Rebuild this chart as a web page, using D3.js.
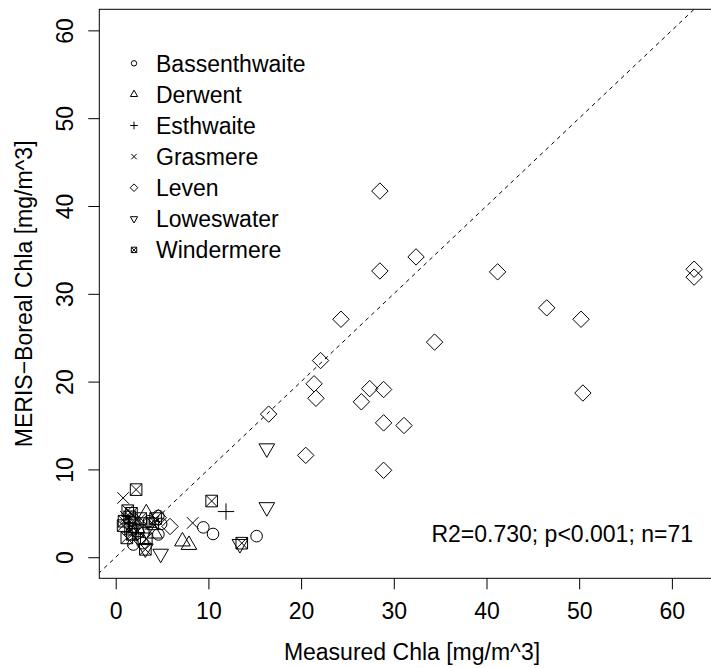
<!DOCTYPE html>
<html>
<head>
<meta charset="utf-8">
<script src="https://cdn.jsdelivr.net/npm/d3@7"></script>
<style>
  html, body { margin: 0; padding: 0; background: #fff; }
  svg { display: block; }
  text { font-family: "Liberation Sans", Arial, Helvetica, sans-serif; fill: #000; }
</style>
</head>
<body>
<svg id="chart" width="711" height="668"></svg>
<script>
// ---- data (measured, MERIS) per lake ----
const lakes = ["Bassenthwaite", "Derwent", "Esthwaite", "Grasmere", "Leven", "Loweswater", "Windermere"];
const symbols = ["circle", "triangle", "plus", "cross", "diamond", "triangleDown", "squareX"];

const bassenthwaite = [[9.45,3.4],[10.5,2.65],[15.2,2.4],[4.6,4.7],[4.6,2.6],[1.9,1.45],[3.6,4.1],[2.6,2.1],[4.9,3.8],[2.9,1.6]];
const derwent = [[7.2,1.8],[7.9,1.4],[3.3,5.0],[2.3,3.3],[4.2,2.7]];
const esthwaite = [[11.9,5.2],[1.5,3.8],[2.2,2.8],[3.6,3.4]];
const grasmere = [[0.8,6.75],[8.3,3.9],[1.1,4.6],[1.9,3.3],[2.8,3.9]];
const leven = [[28.5,41.7],[32.4,34.2],[28.5,32.6],[41.2,32.5],[62.4,32.8],[62.4,31.9],[46.5,28.4],[50.2,27.1],
               [24.3,27.1],[34.4,24.5],[22.1,22.4],[21.4,19.75],[21.6,18.1],[27.4,19.2],[28.9,19.1],[26.5,17.7],
               [28.9,15.3],[31.1,15.0],[50.4,18.7],[20.5,11.6],[28.9,9.9],[16.5,16.3],[5.86,3.5],[4.6,4.5]];
const loweswater = [[16.3,12.4],[16.3,5.7],[4.85,0.4],[13.4,1.5],[3.2,1.0]];
const windermere = [[2.2,7.7],[10.35,6.4],[13.6,1.6],[3.2,0.9],[0.8,3.6],[0.9,4.1],[1.3,5.3],[1.5,4.6],[1.6,3.2],
                    [1.8,2.6],[1.2,2.2],[2.0,3.9],[2.4,3.0],[2.7,4.4],[3.3,2.1],[4.0,3.8],[4.3,4.4],[1.7,5.0]];
const seriesValues = [bassenthwaite, derwent, esthwaite, grasmere, leven, loweswater, windermere];

const xTicks = [0, 10, 20, 30, 40, 50, 60];
const yTicks = [0, 10, 20, 30, 40, 50, 60];
const statsLabel = "R2=0.730; p<0.001; n=71";
const xTitle = "Measured Chla [mg/m^3]";
const yTitle = "MERIS\u2212Boreal Chla [mg/m^3]";

// ---- layout ----
const svg = d3.select("#chart");
const box = { left: 99.3, right: 716, top: 9.3, bottom: 578.3 };
const x = d3.scaleLinear().domain([-1.77, 64.76]).range([box.left, box.right]);
const y = d3.scaleLinear().domain([-2.4, 62.4]).range([box.bottom, box.top]);
const FS = 23;

function symbolPath(type, cx, cy, r) {
  const p = d3.path();
  if (type === "circle") {
    p.moveTo(cx + r, cy); p.arc(cx, cy, r, 0, 2 * Math.PI);
  } else if (type === "triangle" || type === "triangleDown") {
    const s = type === "triangle" ? 1 : -1;
    const rr = 1.5551 * r, xc = 1.3468 * r, yc = 0.7776 * r;
    p.moveTo(cx, cy - s * rr); p.lineTo(cx + xc, cy + s * yc); p.lineTo(cx - xc, cy + s * yc); p.closePath();
  } else if (type === "plus") {
    const h = Math.SQRT2 * r;
    p.moveTo(cx - h, cy); p.lineTo(cx + h, cy); p.moveTo(cx, cy - h); p.lineTo(cx, cy + h);
  } else if (type === "cross") {
    p.moveTo(cx - r, cy - r); p.lineTo(cx + r, cy + r); p.moveTo(cx - r, cy + r); p.lineTo(cx + r, cy - r);
  } else if (type === "diamond") {
    const h = Math.SQRT2 * r;
    p.moveTo(cx, cy - h); p.lineTo(cx + h, cy); p.lineTo(cx, cy + h); p.lineTo(cx - h, cy); p.closePath();
  } else if (type === "squareX") {
    p.rect(cx - r, cy - r, 2 * r, 2 * r);
    p.moveTo(cx - r, cy - r); p.lineTo(cx + r, cy + r); p.moveTo(cx - r, cy + r); p.lineTo(cx + r, cy - r);
  }
  return p.toString();
}

// clip to plot box
svg.append("defs").append("clipPath").attr("id", "clip")
  .append("rect").attr("x", box.left).attr("y", box.top)
  .attr("width", box.right - box.left).attr("height", box.bottom - box.top);

const plot = svg.append("g").attr("clip-path", "url(#clip)");

// 1:1 line
plot.append("line")
  .attr("x1", x(-5)).attr("y1", y(-5)).attr("x2", x(70)).attr("y2", y(70))
  .attr("stroke", "#000").attr("stroke-width", 1).attr("stroke-dasharray", "4,4");

// points
const R = 5.8;
seriesValues.forEach((vals, i) => {
  plot.append("g").selectAll("path").data(vals).join("path")
    .attr("d", d => symbolPath(symbols[i], x(d[0]), y(d[1]), R))
    .attr("fill", "none").attr("stroke", "#000").attr("stroke-width", 1);
});

// box
svg.append("rect").attr("x", box.left).attr("y", box.top)
  .attr("width", box.right - box.left).attr("height", box.bottom - box.top)
  .attr("fill", "none").attr("stroke", "#000").attr("stroke-width", 1);

// axes
const xAxis = d3.axisBottom(x).tickValues(xTicks).tickSize(11).tickPadding(6).tickFormat(d3.format("d"));
const gx = svg.append("g").attr("transform", `translate(0,${box.bottom})`).call(xAxis);
gx.select(".domain").remove();
gx.selectAll("text").attr("font-size", FS).attr("font-family", null).attr("dy", null)
  .attr("y", 40.5);
gx.selectAll("line").attr("stroke", "#000");

const yAxis = d3.axisLeft(y).tickValues(yTicks).tickSize(11).tickFormat(d3.format("d"));
const gy = svg.append("g").attr("transform", `translate(${box.left},0)`).call(yAxis);
gy.select(".domain").remove();
gy.selectAll("line").attr("stroke", "#000");
gy.selectAll("text").attr("font-size", FS).attr("font-family", null)
  .attr("x", null).attr("dy", null).attr("text-anchor", "middle")
  .attr("transform", "translate(-26.3,0) rotate(-90)");

// axis titles
svg.append("text").attr("x", 412).attr("y", 660).attr("text-anchor", "middle")
  .attr("font-size", FS).text(xTitle);
svg.append("text").attr("transform", `translate(32,${(box.top + box.bottom) / 2}) rotate(-90)`)
  .attr("text-anchor", "middle").attr("font-size", FS).text(yTitle);

// legend
const leg = svg.append("g");
lakes.forEach((name, i) => {
  const cy = 63.3 + i * 31.1;
  leg.append("path").attr("d", symbolPath(symbols[i], 134, cy, 2.7))
    .attr("fill", "none").attr("stroke", "#000").attr("stroke-width", 1);
  leg.append("text").attr("x", 156).attr("y", cy + 8.3).attr("font-size", FS).text(name);
});

// stats
svg.append("text").attr("x", 693).attr("y", 542).attr("text-anchor", "end")
  .attr("font-size", FS).text(statsLabel);
</script>
</body>
</html>
